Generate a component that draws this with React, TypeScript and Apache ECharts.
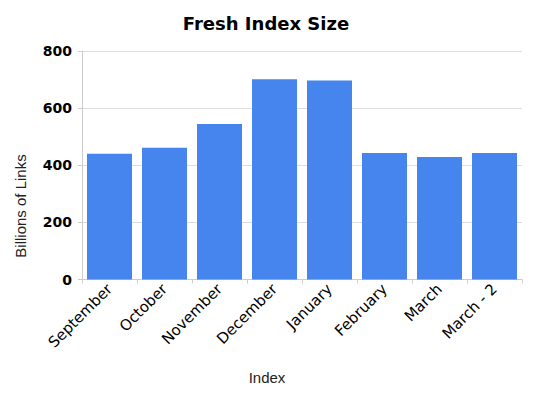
import React, { useEffect, useRef } from "react";
import * as echarts from "echarts";

const categories = ["September", "October", "November", "December", "January", "February", "March", "March - 2"];
const linkCounts = [440, 461, 544, 701, 697, 443, 429, 443];
const yTicks = { min: 0, max: 800, interval: 200 };
const titleText = "Fresh Index Size";
const xAxisName = "Index";
const yAxisName = "Billions of Links";

export default function App() {
  const ref = useRef<HTMLDivElement>(null);
  useEffect(() => {
    if (!ref.current) return;
    const chart = echarts.init(ref.current, null, { renderer: "svg" });
    chart.setOption({
      animation: false,
      backgroundColor: "#ffffff",
      title: {
        text: titleText,
        left: 261,
        textAlign: "center",
        top: 9,
        textStyle: { fontFamily: "DejaVu Sans", fontWeight: "bold", fontSize: 18, color: "#000" },
      },
      grid: { left: 82, right: 12, top: 51, bottom: 116.5 },
      xAxis: {
        type: "category",
        data: categories,
        axisLine: { lineStyle: { color: "#cccccc", width: 1 } },
        axisTick: { show: true, length: 4, lineStyle: { color: "#cccccc" } },
        axisLabel: {
          rotate: 45,
          margin: 7,
          fontFamily: "DejaVu Sans",
          fontSize: 15,
          color: "#000",
        },
      },
      yAxis: {
        type: "value",
        min: yTicks.min,
        max: yTicks.max,
        interval: yTicks.interval,
        axisLine: { show: true, lineStyle: { color: "#cccccc" } },
        axisTick: { show: true, length: 4, lineStyle: { color: "#cccccc" } },
        splitLine: { lineStyle: { color: "#dddddd" } },
        axisLabel: {
          margin: 10,
          fontFamily: "DejaVu Sans",
          fontWeight: "bold",
          fontSize: 14,
          color: "#000",
        },
      },
      series: [
        {
          type: "bar",
          data: linkCounts,
          barWidth: 45,
          itemStyle: { color: "#4684ee" },
        },
      ],
      graphic: [
        {
          type: "text",
          x: 267,
          y: 377,
          style: {
            text: xAxisName,
            fontFamily: "Liberation Sans",
            fontSize: 15,
            fill: "#222",
            textAlign: "center",
            textVerticalAlign: "middle",
          },
        },
        {
          type: "text",
          x: 20,
          y: 206,
          rotation: Math.PI / 2,
          style: {
            text: yAxisName,
            fontFamily: "Liberation Sans",
            fontSize: 15,
            fill: "#222",
            textAlign: "center",
            textVerticalAlign: "middle",
          },
        },
      ],
    });
    return () => chart.dispose();
  }, []);
  return <div ref={ref} style={{ width: 534, height: 396, margin: -8 }} />;
}
